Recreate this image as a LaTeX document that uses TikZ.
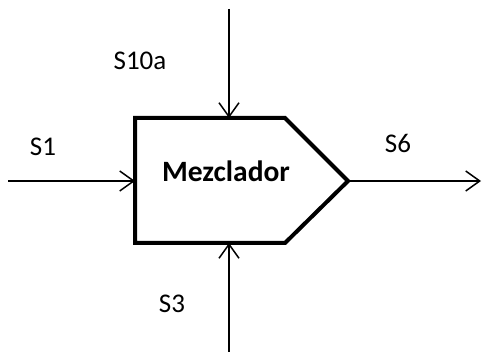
\documentclass[tikz,border=0pt]{standalone}
\usepackage{fontspec}
\setmainfont{Carlito}
\usetikzlibrary{arrows.meta}
\begin{document}
\begin{tikzpicture}[x=1pt,y=-1pt,
  flow/.style={line width=1.5pt,-{Straight Barb[length=14pt,width=20pt,line width=1.5pt]}},
  unit/.style={line width=4pt,line join=miter,fill=white},
  lbl/.style={font=\fontsize{27}{31}\selectfont,inner sep=0pt}]
\useasboundingbox (0,0) rectangle (482,352);
% mixer body
\draw[unit] (135,118) -- (285,118) -- (348,181) -- (285,243) -- (135,243) -- cycle;
\node[font=\bfseries\fontsize{29.5}{33}\selectfont,inner sep=0pt] (mix) at (226,171) {Mezclador};
\coordinate (top) at (229,118);
\coordinate (bot) at (229,243);
\coordinate (lft) at (135,181);
\coordinate (rgt) at (348,181);
\coordinate (inA) at (229,9);
\coordinate (inB) at (229,352);
\coordinate (inC) at (8,181);
\coordinate (out) at (481,181);
\draw[flow] (inA) -- (top);
\draw[flow] (inB) -- (bot);
\draw[flow] (inC) -- (lft);
\draw[flow] (rgt) -- (out);
\node[lbl] (s10a) at (140,61) {S10a};
\node[lbl] (s1) at (43,147) {S1};
\node[lbl] (s6) at (398,143.5) {S6};
\node[lbl] (s3) at (172,303.5) {S3};
\end{tikzpicture}
\end{document}
